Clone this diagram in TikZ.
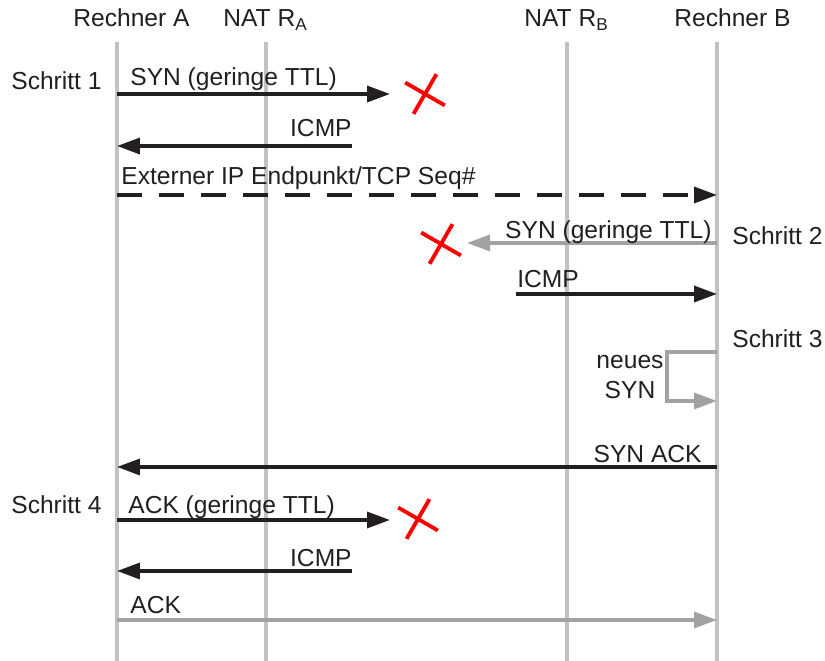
\documentclass[tikz,border=0pt]{standalone}
\usepackage{fontspec}
\setmainfont{Liberation Sans}
\usetikzlibrary{arrows.meta, shapes.misc, positioning}
\definecolor{lifegray}{HTML}{C2C2C2}
\definecolor{msggray}{HTML}{A2A2A2}
\definecolor{msgblack}{HTML}{231F20}
\tikzstyle{every node}=[font=\fontsize{14}{17}\selectfont, text=msgblack, inner sep=0pt]
\tikzstyle{lifeline}=[draw=lifegray, line width=1.8pt]
\tikzstyle{msg}=[draw=msgblack, line width=2pt, -{Triangle[length=4.6mm,width=3.2mm]}]
\tikzstyle{greymsg}=[msg, draw=msggray, line width=1.8pt]
\tikzstyle{lost}=[cross out, draw=red, line width=2.2pt, minimum size=0.57cm, rotate=15]

\begin{document}
\begin{tikzpicture}[x=0.02cm, y=-0.02cm]
    \useasboundingbox (0,0) rectangle (825,661);
    % lifelines
    \foreach \n/\x in {A/117, RA/266, RB/567, B/717} {
        \coordinate (\n top) at (\x,42);
        \coordinate (\n bot) at (\x,661);
        \draw[lifeline] (\n top) -- (\n bot);
    }
    \node[anchor=base west] (hA) at (73,27) {Rechner A};
    \node[anchor=base west] (hRA) at (223,27) {NAT R\textsubscript{A}};
    \node[anchor=base west] (hRB) at (524,27) {NAT R\textsubscript{B}};
    \node[anchor=base west] (hB) at (674,27) {Rechner B};
    % steps
    \node[anchor=base west] (s1) at (11,90) {Schritt 1};
    \node[anchor=base west] (s2) at (732,245) {Schritt 2};
    \node[anchor=base west] (s3) at (732,348) {Schritt 3};
    \node[anchor=base west] (s4) at (11,514) {Schritt 4};
    % dropped packets
    \node[lost] (x1) at (425,94) {};
    \node[lost] (x2) at (441,244) {};
    \node[lost] (x3) at (418,519) {};
    % message end points
    \coordinate (syn1a) at (117,94);   \coordinate (syn1b) at (390,94);
    \coordinate (icmp1a) at (352,146); \coordinate (icmp1b) at (117,146);
    \coordinate (exta) at (117,195);   \coordinate (extb) at (717,195);
    \coordinate (syn2a) at (717,243);  \coordinate (syn2b) at (467,243);
    \coordinate (icmp2a) at (516,294); \coordinate (icmp2b) at (717,294);
    \coordinate (newa) at (717,352);   \coordinate (newb) at (717,401);
    \coordinate (synacka) at (717,467); \coordinate (synackb) at (117,467);
    \coordinate (ack1a) at (117,520);  \coordinate (ack1b) at (390,520);
    \coordinate (icmp3a) at (352,571); \coordinate (icmp3b) at (117,571);
    \coordinate (ack2a) at (117,620);  \coordinate (ack2b) at (717,620);
    % messages
    \draw[msg] (syn1a) -- (syn1b);
    \node[anchor=base west] (lsyn1) at (130,86) {SYN (geringe TTL)};
    \draw[msg] (icmp1a) -- (icmp1b);
    \node[anchor=base east] (licmp1) at (352,137) {ICMP};
    \draw[msg, dash pattern=on 0.5cm off 0.34cm] (exta) -- (extb);
    \node[anchor=base west] (lext) at (121,185) {Externer IP Endpunkt/TCP Seq\#};
    \draw[greymsg] (syn2a) -- (syn2b);
    \node[anchor=base east] (lsyn2) at (712,239) {SYN (geringe TTL)};
    \draw[msg] (icmp2a) -- (icmp2b);
    \node[anchor=base west] (licmp2) at (517,288) {ICMP};
    \draw[greymsg] (newa) -- ++(-50,0) |- (newb);
    \node[align=center] (lnew) at (630,377) {neues\\SYN};
    \draw[msg] (synacka) -- (synackb);
    \node[anchor=base east] (lsynack) at (702,463) {SYN ACK};
    \draw[msg] (ack1a) -- (ack1b);
    \node[anchor=base west] (lack1) at (128,514) {ACK (geringe TTL)};
    \draw[msg] (icmp3a) -- (icmp3b);
    \node[anchor=base east] (licmp3) at (352,567) {ICMP};
    \draw[greymsg] (ack2a) -- (ack2b);
    \node[anchor=base west] (lack2) at (130,614) {ACK};
\end{tikzpicture}
\end{document}
